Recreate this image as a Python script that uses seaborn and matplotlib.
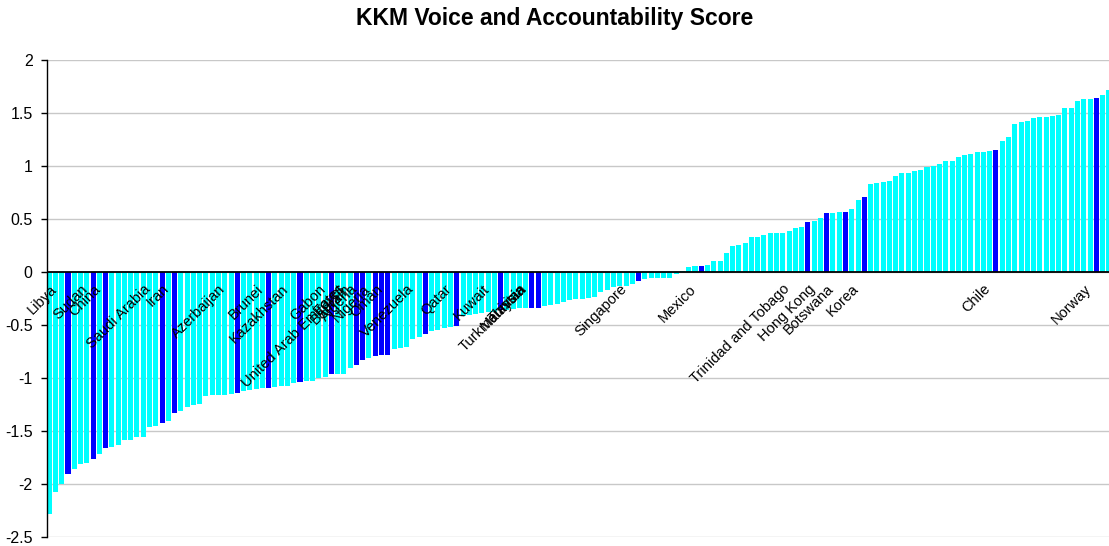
import numpy as np
import pandas as pd
import matplotlib
matplotlib.use('Agg')
import matplotlib.pyplot as plt
import seaborn as sns

# KKM voice and accountability scores, sorted
scores = [
    -2.28, -2.07, -2.00, -1.90, -1.86, -1.81, -1.80, -1.76, -1.71, -1.66,
    -1.645, -1.63, -1.58, -1.58, -1.55, -1.55, -1.46, -1.45, -1.42, -1.40,
    -1.33, -1.31, -1.27, -1.25, -1.24, -1.17, -1.16, -1.16, -1.16, -1.15,
    -1.135, -1.12, -1.11, -1.10, -1.09, -1.09, -1.08, -1.07, -1.07, -1.04,
    -1.035, -1.025, -1.025, -1.00, -0.985, -0.955, -0.955, -0.955, -0.90, -0.87,
    -0.83, -0.81, -0.785, -0.78, -0.78, -0.72, -0.71, -0.70, -0.625, -0.615,
    -0.58, -0.55, -0.54, -0.53, -0.52, -0.51, -0.415, -0.405, -0.395, -0.38,
    -0.37, -0.37, -0.36, -0.355, -0.35, -0.34, -0.335, -0.335, -0.335, -0.32,
    -0.31, -0.295, -0.28, -0.26, -0.255, -0.255, -0.245, -0.23, -0.185, -0.17,
    -0.14, -0.13, -0.125, -0.11, -0.08, -0.06, -0.05, -0.05, -0.05, -0.05,
    -0.013, 0.016, 0.05, 0.06, 0.06, 0.07, 0.107, 0.107, 0.18, 0.25,
    0.26, 0.28, 0.33, 0.33, 0.35, 0.37, 0.37, 0.37, 0.39, 0.418,
    0.428, 0.475, 0.484, 0.513, 0.56, 0.56, 0.57, 0.57, 0.60, 0.68,
    0.71, 0.833, 0.843, 0.852, 0.862, 0.909, 0.937, 0.937, 0.956, 0.965,
    0.994, 1.00, 1.02, 1.047, 1.047, 1.085, 1.104, 1.113, 1.132, 1.132,
    1.142, 1.151, 1.236, 1.274, 1.396, 1.415, 1.425, 1.453, 1.462, 1.462,
    1.472, 1.481, 1.547, 1.547, 1.613, 1.632, 1.632, 1.642, 1.67, 1.717,
]

# bars drawn in dark blue (0-based positions in the sorted list)
highlighted = [3, 7, 9, 18, 20, 30, 35, 40, 45, 49, 50, 52, 53, 54, 60, 65,
               72, 77, 78, 94, 104, 121, 124, 127, 130, 151, 167]

# country names written on the chart and the bar each one marks
label_names = ['Libya', 'Sudan', 'China', 'Saudi Arabia', 'Iran', 'Azerbaijan',
               'Brunei', 'Kazakhstan', 'United Arab Emirates', 'Gabon', 'Egypt',
               'Bahrain', 'Algeria', 'Nigeria', 'Oman', 'Venezuela', 'Qatar',
               'Kuwait', 'Turkmenistan', 'Malaysia', 'Tunisia', 'Singapore',
               'Mexico', 'Trinidad and Tobago', 'Hong Kong', 'Botswana', 'Korea',
               'Chile', 'Norway']
label_bars = [0, 5, 7, 15, 18, 27, 33, 37, 46, 43, 46,
              47, 48, 50, 52, 57, 63,
              69, 75, 75, 75, 91,
              102, 117, 121, 124, 128,
              149, 165]

df = pd.DataFrame({
    'bar': [str(i) for i in range(len(scores))],
    'score': scores,
    'group': ['dark' if i in highlighted else 'light' for i in range(len(scores))],
})

sns.set_style('white')
plt.rcParams['font.family'] = ['Liberation Sans', 'DejaVu Sans']
plt.rcParams['axes.unicode_minus'] = False
plt.rcParams['text.color'] = 'black'
plt.rcParams['ytick.color'] = 'black'
plt.rcParams['ytick.labelcolor'] = 'black'

fig = plt.figure(figsize=(11.09, 5.46), dpi=100)
ax = fig.add_axes([46.5 / 1109, 8.7 / 546, 1062.5 / 1109, 477 / 546])

sns.barplot(data=df, x='bar', y='score', hue='group', dodge=False,
            palette={'light': '#00ffff', 'dark': '#0000ff'},
            width=0.8, saturation=1, legend=False, linewidth=0, ax=ax, zorder=2)

ax.set_xlim(-0.43, -0.43 + 1062.5 / 6.27)
ax.set_ylim(-2.5, 2)
ax.set_yticks(np.arange(-2.5, 2.01, 0.5))
ax.set_yticklabels([f'{v:g}' for v in np.arange(-2.5, 2.01, 0.5)], fontsize=11.5)
ax.set_xticks([])
ax.set_xlabel('')
ax.set_ylabel('')
ax.yaxis.grid(True, color='#c8c8c8', linewidth=1, zorder=0)
ax.set_axisbelow(True)
ax.axhline(0, color='black', linewidth=1.3, zorder=3)
ax.tick_params(axis='y', left=True, length=4, width=1, color='black',
               labelcolor='black', pad=6)

for side in ['top', 'right', 'bottom']:
    ax.spines[side].set_visible(False)
ax.spines['left'].set_color('black')
ax.spines['left'].set_linewidth(1)

for name, pos in zip(label_names, label_bars):
    ax.text(pos, -0.09, name, rotation=45, ha='right', va='top',
            rotation_mode='anchor', fontsize=10.5, color='black', zorder=4)

fig.text(0.5, 1 - 18 / 546, 'KKM Voice and Accountability Score', ha='center',
         va='center', fontsize=16.5, fontweight='bold', color='black')

fig.savefig('out.png', dpi=100)
